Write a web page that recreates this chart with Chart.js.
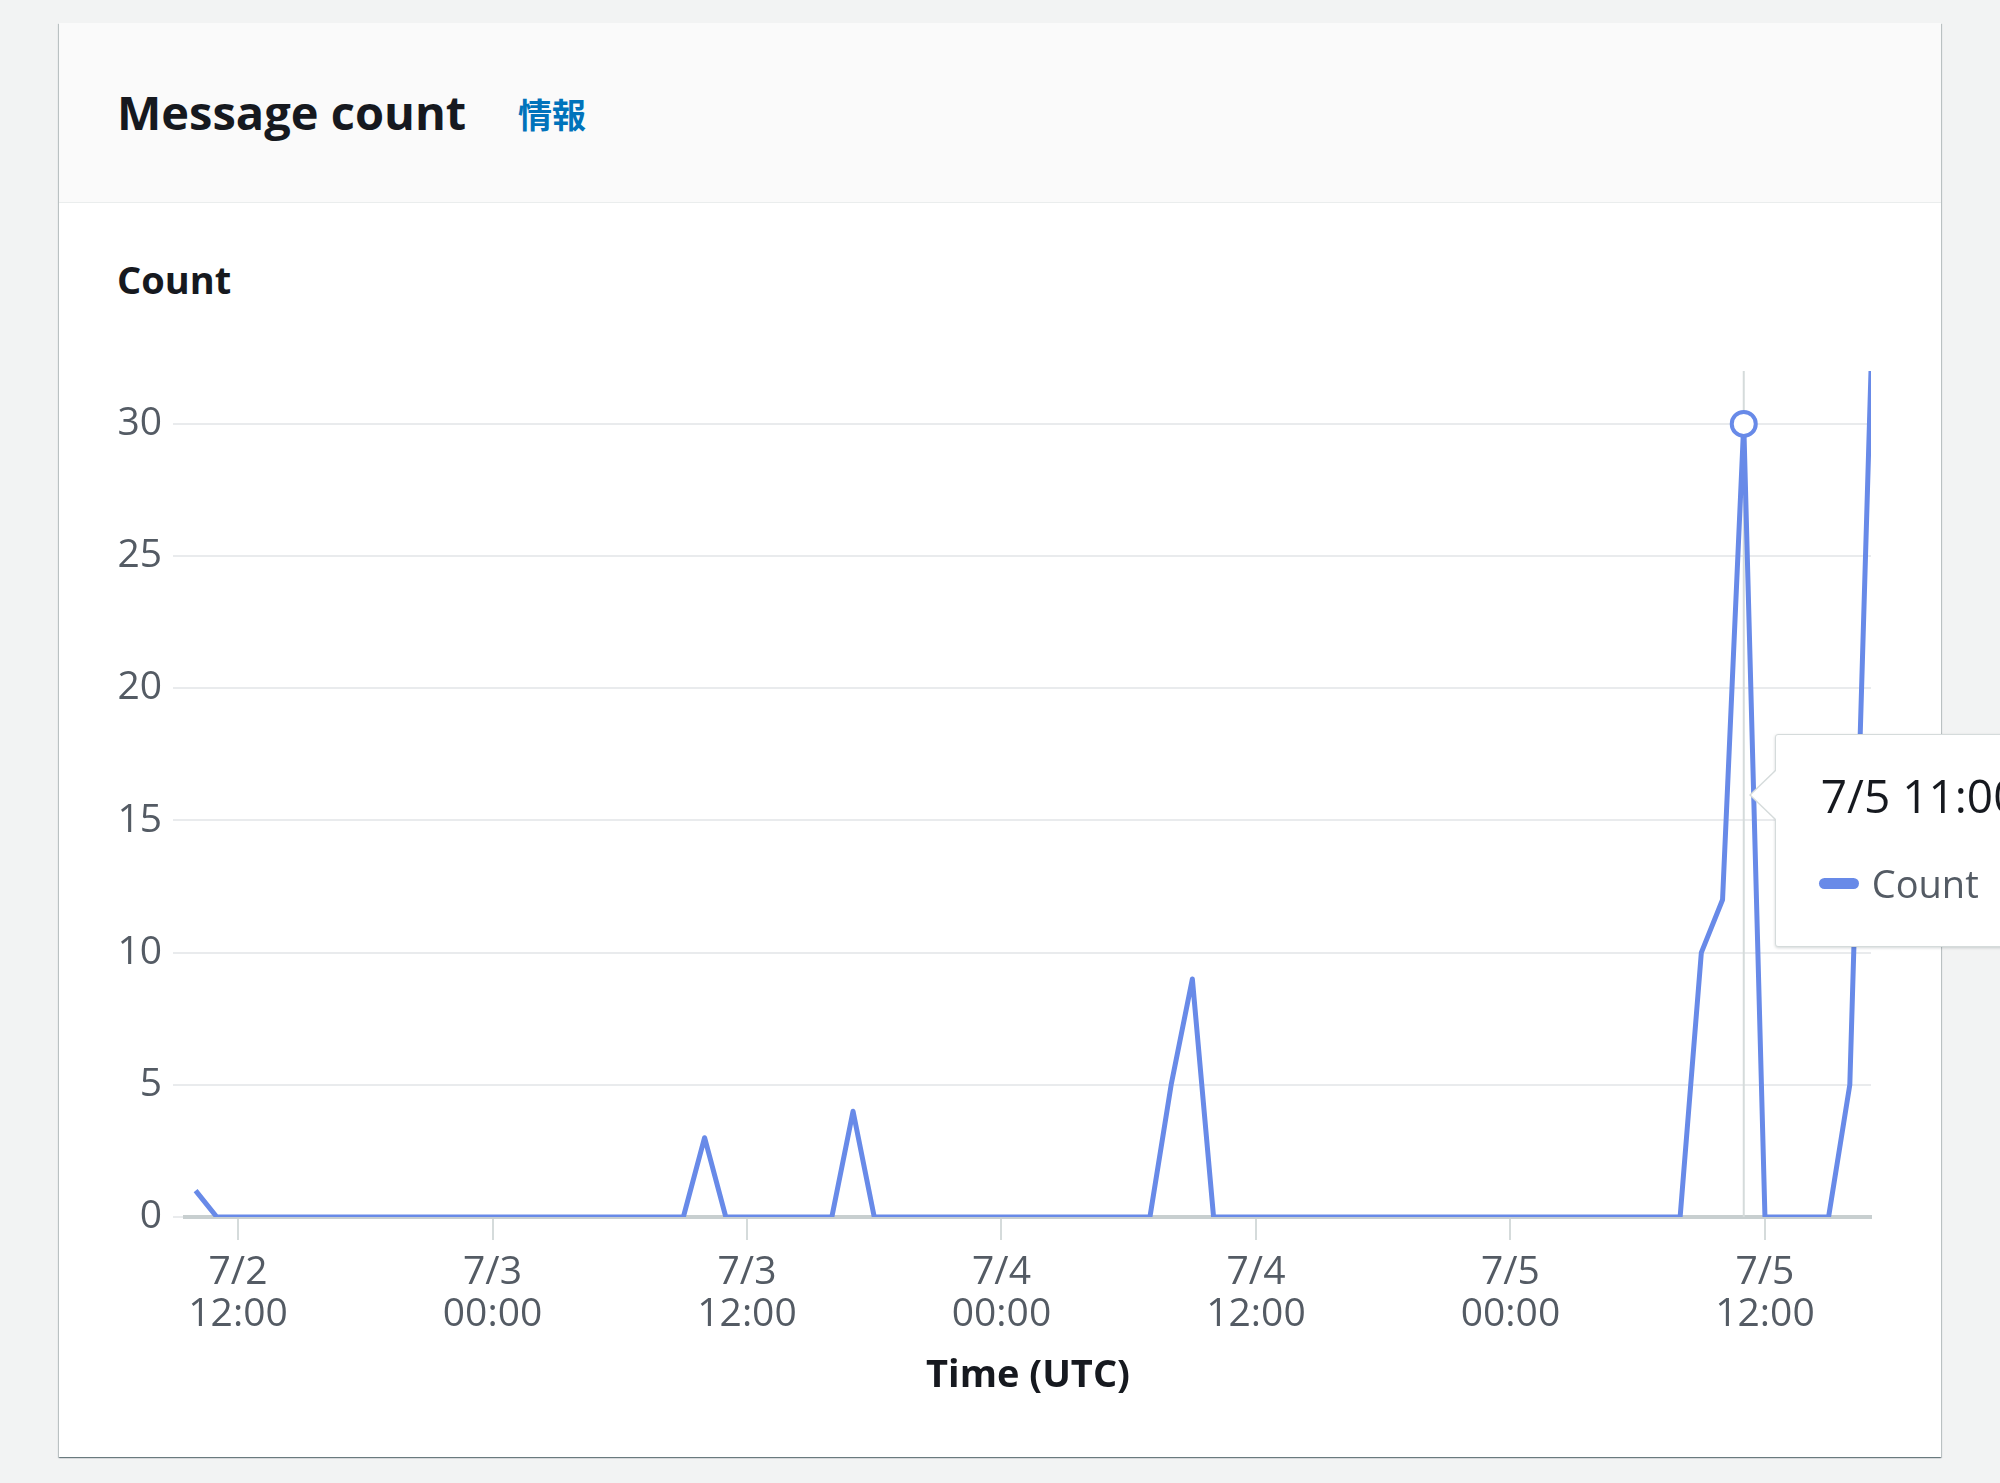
<!DOCTYPE html>
<html>
<head>
<meta charset="utf-8">
<script src="https://cdn.jsdelivr.net/npm/chart.js@4.4.0/dist/chart.umd.min.js"></script>
<style>
  html, body { margin:0; padding:0; width:2000px; height:1483px; overflow:hidden; background:#f2f3f3; font-family:"Open Sans", sans-serif; }
  #panel { position:absolute; left:59px; top:23px; width:1882px; height:1434px; background:#fff;
    box-shadow: 0 1px 1px 0 rgba(0,28,36,.35), 1px 1px 1px 0 rgba(0,28,36,.18), -1px 1px 1px 0 rgba(0,28,36,.18); }
  #header { position:absolute; left:0; top:0; width:1882px; height:179px; background:#fafafa; border-bottom:1px solid #eaeded; }
  #title { position:absolute; left:58px; top:66px; font-size:47px; line-height:47px; font-weight:700; color:#16191f; white-space:nowrap; }
  #info { position:absolute; left:459px; top:74px; font-family:"Noto Sans CJK JP", sans-serif; font-size:34px; line-height:34px; font-weight:700; color:#0073bb; }
  #ylab { position:absolute; left:58px; top:237px; font-size:38px; line-height:38px; font-weight:700; color:#16191f; }
  #chartbox { position:absolute; left:0; top:180px; width:1882px; height:1254px; }
  #tip { position:absolute; display:none; width:320px; height:211px; background:#fff; border:1px solid #d5dbdb; border-radius:3px;
    box-shadow: 0 1px 3px rgba(0,28,36,.18); z-index:5; }
  #tip::before { content:""; position:absolute; left:-27px; top:34px; border-style:solid; border-width:26px 27px 26px 0; border-color:transparent #d5dbdb transparent transparent; }
  #tip::after { content:""; position:absolute; left:-25px; top:35px; border-style:solid; border-width:25px 26px 25px 0; border-color:transparent #fff transparent transparent; }
  #tipTitle { position:absolute; left:45px; top:34px; font-size:46px; line-height:52px; color:#16191f; white-space:nowrap; }
  #tipSwatch { position:absolute; left:43px; top:143px; width:40px; height:11px; border-radius:6px; background:#688ae8; }
  #tipLabel { position:absolute; left:96px; top:122px; font-size:38px; line-height:52px; color:#545b64; white-space:nowrap; }
</style>
</head>
<body>
<div id="panel">
  <div id="header">
    <div id="title">Message count</div>
    <div id="info">情報</div>
  </div>
  <div id="ylab">Count</div>
  <div id="chartbox"><canvas id="c" width="1882" height="1254" style="width:1882px;height:1254px"></canvas></div>
</div>
<div id="tip"><div id="tipTitle"></div><div id="tipSwatch"></div><div id="tipLabel"></div></div>

<script>
// ---- data ----
const month = 7;
const firstDay = 2;           // hours below are counted from 7/2 00:00
const firstHour = 10;         // first sample: 7/2 10:00, one sample per hour
const seriesLabel = 'Count';
const counts = [
  // 7/2 10:00 - 23:00
  1,0,0,0,0,0,0,0,0,0,0,0,0,0,
  // 7/3 00:00 - 23:00
  0,0,0,0,0,0,0,0,0,0,3,0,0,0,0,0,0,4,0,0,0,0,0,0,
  // 7/4 00:00 - 23:00
  0,0,0,0,0,0,0,0,5,9,0,0,0,0,0,0,0,0,0,0,0,0,0,0,
  // 7/5 00:00 - 17:00
  0,0,0,0,0,0,0,0,0,10,12,30,0,0,0,0,5,32
];
const xMinHour = 9.5;
const xMaxHour = 89;
const xTickHours = [12, 24, 36, 48, 60, 72, 84];
const xTickLabels = [['7/2','12:00'],['7/3','00:00'],['7/3','12:00'],['7/4','00:00'],['7/4','12:00'],['7/5','00:00'],['7/5','12:00']];
const yTicks = [0, 5, 10, 15, 20, 25, 30];
const hoverLabel = '7/5 11:00';

// ---- helpers ----
const pad2 = n => String(n).padStart(2, '0');
const fmtHour = h => `${month}/${firstDay + Math.floor(h / 24)} ${pad2(h % 24)}:00`;
const points = counts.map((c, i) => ({ x: firstHour + i, y: c }));
const lineColor = '#688ae8';

Chart.Tooltip.positioners.hoverLine = function (items, eventPosition) {
  if (!items.length) return false;
  return { x: items[0].element.x, y: eventPosition ? eventPosition.y : items[0].element.y };
};

function externalTip(context) {
  const { chart, tooltip } = context;
  const el = document.getElementById('tip');
  if (tooltip.opacity === 0 || !tooltip.dataPoints || !tooltip.dataPoints.length) { el.style.display = 'none'; return; }
  const rect = chart.canvas.getBoundingClientRect();
  document.getElementById('tipTitle').textContent = tooltip.title.join(' ');
  document.getElementById('tipLabel').textContent = tooltip.dataPoints[0].dataset.label;
  el.style.left = (rect.left + tooltip.caretX + 31) + 'px';
  el.style.top = (rect.top + tooltip.caretY - 60) + 'px';
  el.style.display = 'block';
}

const crosshair = {
  id: 'crosshair',
  beforeDatasetsDraw(chart) {
    const act = chart.getActiveElements();
    if (!act.length) return;
    const x = act[0].element.x;
    const { top, bottom } = chart.chartArea;
    const ctx = chart.ctx;
    ctx.save();
    ctx.strokeStyle = '#d5dbdb';
    ctx.lineWidth = 2;
    ctx.beginPath();
    ctx.moveTo(x, top);
    ctx.lineTo(x, bottom);
    ctx.stroke();
    ctx.restore();
  }
};

const tickFont = { family: 'Open Sans', size: 39 };

const chart = new Chart(document.getElementById('c'), {
  type: 'line',
  data: {
    datasets: [{
      label: seriesLabel,
      data: points,
      borderColor: lineColor,
      backgroundColor: lineColor,
      borderWidth: 5,
      borderJoinStyle: 'round',
      tension: 0,
      fill: false,
      pointRadius: 0,
      pointHoverRadius: 12,
      pointHoverBorderWidth: 4,
      pointHoverBackgroundColor: '#ffffff',
      pointHoverBorderColor: lineColor
    }]
  },
  options: {
    responsive: false,
    animation: false,
    events: [],
    layout: { padding: { left: 0, right: 70, top: 168, bottom: 0 } },
    plugins: {
      legend: { display: false },
      tooltip: {
        enabled: false,
        external: externalTip,
        position: 'hoverLine',
        callbacks: { title: items => fmtHour(items[0].parsed.x) }
      }
    },
    scales: {
      x: {
        type: 'linear',
        min: xMinHour,
        max: xMaxHour,
        afterBuildTicks: s => { s.ticks = xTickHours.map(v => ({ value: v })); },
        afterFit: s => { s.height = 240; },
        grid: { drawOnChartArea: false, drawTicks: true, tickLength: 23, color: '#d5dbdb', lineWidth: 2 },
        border: { display: true, color: '#c8cfd0', width: 4 },
        ticks: {
          autoSkip: false, maxRotation: 0, padding: 11,
          font: Object.assign({ lineHeight: 1.1 }, tickFont), color: '#545b64',
          callback: (v, i) => xTickLabels[xTickHours.indexOf(v)] || ''
        },
        title: { display: true, text: 'Time (UTC)', color: '#16191f',
          font: { family: 'Open Sans', size: 38, weight: 'bold', lineHeight: 1.2 }, padding: { top: 0, bottom: 58 } }
      },
      y: {
        min: 0,
        max: Math.max(...counts),
        afterBuildTicks: s => { s.ticks = yTicks.map(v => ({ value: v })); },
        afterFit: s => { s.width = 126; },
        grid: { color: '#e9ebed', lineWidth: 2, drawTicks: true, tickLength: 12 },
        border: { display: false },
        ticks: { font: tickFont, color: '#545b64', padding: 11 }
      }
    }
  },
  plugins: [crosshair]
});

const hoverIndex = points.findIndex(p => fmtHour(p.x) === hoverLabel);
const active = [{ datasetIndex: 0, index: hoverIndex }];
chart.setActiveElements(active);
chart.tooltip.setActiveElements(active, { x: 0, y: chart.scales.y.getPixelForValue(16) });
chart.update();
</script>
</body>
</html>
